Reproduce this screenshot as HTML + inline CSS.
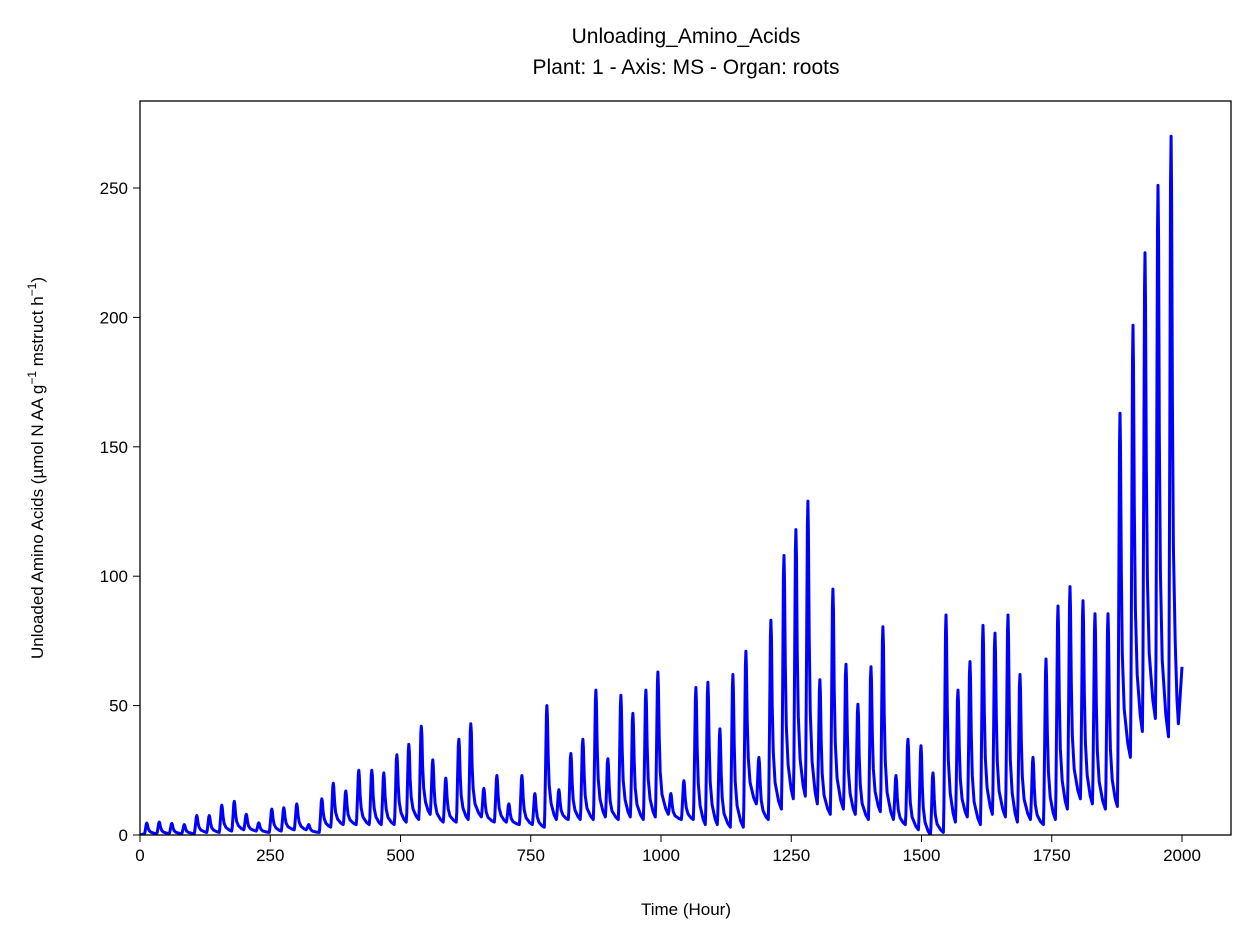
<!DOCTYPE html>
<html><head><meta charset="utf-8"><style>
body{margin:0;background:#fff;}
svg text{font-family:"Liberation Sans","DejaVu Sans",sans-serif;fill:#000;}
</style></head><body>
<svg width="1252" height="943">
<rect width="1252" height="943" fill="#fff"/>
<text x="686" y="43" font-size="21" text-anchor="middle">Unloading_Amino_Acids</text>
<text x="686" y="74" font-size="21" text-anchor="middle">Plant: 1 - Axis: MS - Organ: roots</text>
<g id="xt"></g>
<g id="yt"></g>
<text x="686" y="915" font-size="17" text-anchor="middle">Time (Hour)</text>
<text transform="translate(43,468) rotate(-90)" font-size="17" text-anchor="middle">Unloaded Amino Acids (µmol N AA g<tspan dy="-7" font-size="12">−1</tspan><tspan dy="7"> mstruct h</tspan><tspan dy="-7" font-size="12">−1</tspan><tspan dy="7">)</tspan></text>
<defs><clipPath id="cp"><rect x="140" y="101" width="1091" height="734"/></clipPath></defs>
<path id="line" fill="none" stroke="#0000ff" stroke-width="3" stroke-linejoin="round" clip-path="url(#cp)"/>
<rect x="140" y="101" width="1091" height="734" fill="none" stroke="#000" stroke-width="1.3"/>
</svg>
<script>
const peakHours=[13,37,61,85,109,133,157,181,204,228,253,276,301,324,349,371,395,420,445,468,493,516,540,562,587,612,635,660,685,708,733,758,
781,804,827,850,875,898,923,946,971,994,1019,1044,1067,1090,1113,1138,1163,1188,1211,1236,1259,1282,1305,1330,1355,1378,1403,1426,1451,1474,1499,1522,1547,1570,1593,1618,1641,1666,1689,1714,1739,1762,1785,1810,1833,1858,1881,1906,1929,1954,1979];
const peakValues=[4.6,5,4.5,4,7.5,7.5,11.5,13,8,4.7,10,10.5,12,4,14,20,17,25,25,24,31,35,42,29,22,37,43,18,23,12,23,16,
50,17.5,31.5,37,56,29.5,54,47,56,63,16,21,57,59,41,62,71,30,83,108,118,129,60,95,66,50.5,65,80.5,23,37,34.5,24,85,56,67,81,78,85,62,30,68,88.5,96,90.5,85.5,85.5,163,197,225,251,270];
const troughValues=[0.5,0.5,0.5,0.5,1,1,1.5,2,1.5,1,1.5,2,2,1,3,4,4,4,4,4,5,6,8,5,5,6,7,5,5,4,4,3,
6,6,6,6,7,6,7,6,7,8,6,6,4,4,3,3,12,6,10,14,15,12,8,10,8,6,9,6,4,2,0,1,5,7,4,8,7,5,6,4,6,10,14,12,10,11,30,40,45,38,43];
const endPoint=[2000,65];
const xTicks=[0,250,500,750,1000,1250,1500,1750,2000];
const yTicks=[0,50,100,150,200,250];
const X=h=>140+h*0.521, Y=v=>835-v*2.588;
const ns="http://www.w3.org/2000/svg";
let pts=[[0,0]];
for(let i=0;i<peakHours.length;i++){
  const t=peakHours[i],p=peakValues[i],tr=troughValues[i];
  const pr=i>0?troughValues[i-1]:0;
  const nt=i+1<peakHours.length?peakHours[i+1]:1998;
  pts.push([t-4,pr+(p-pr)*0.12]);
  pts.push([t-2.5,pr+(p-pr)*0.5]);
  pts.push([t-1,pr+(p-pr)*0.92]);
  pts.push([t,p]);
  pts.push([t+1,tr+(p-tr)*0.9]);
  pts.push([t+2.5,tr+(p-tr)*0.55]);
  pts.push([t+4.5,tr+(p-tr)*0.3]);
  pts.push([t+8,tr+(p-tr)*0.14]);
  pts.push([t+(nt-t)*0.6,tr+(p-tr)*0.04]);
  pts.push([nt-5,tr]);
}
pts.push(endPoint);
pts.sort((a,b)=>a[0]-b[0]);
document.getElementById('line').setAttribute('d','M'+pts.map(p=>X(p[0]).toFixed(1)+','+Y(p[1]).toFixed(1)).join('L'));
const xt=document.getElementById('xt');
xTicks.forEach(v=>{
  const l=document.createElementNS(ns,'line');
  l.setAttribute('x1',X(v));l.setAttribute('x2',X(v));l.setAttribute('y1',835);l.setAttribute('y2',842);l.setAttribute('stroke','#000');
  
  
  xt.appendChild(l);
  const t=document.createElementNS(ns,'text');
  t.setAttribute('x',X(v));t.setAttribute('y',861);t.setAttribute('font-size','17');t.setAttribute('text-anchor','middle');
  t.textContent=v;
  
  
  xt.appendChild(t);
});
const yt=document.getElementById('yt');
yTicks.forEach(v=>{
  const l=document.createElementNS(ns,'line');
  l.setAttribute('x1',133);l.setAttribute('x2',140);l.setAttribute('y1',Y(v));l.setAttribute('y2',Y(v));l.setAttribute('stroke','#000');
  
  
  yt.appendChild(l);
  const t=document.createElementNS(ns,'text');
  t.setAttribute('x',128);t.setAttribute('y',Y(v)+6);t.setAttribute('font-size','17');t.setAttribute('text-anchor','end');
  t.textContent=v;
  
  
  yt.appendChild(t);
});
</script>
</body></html>
